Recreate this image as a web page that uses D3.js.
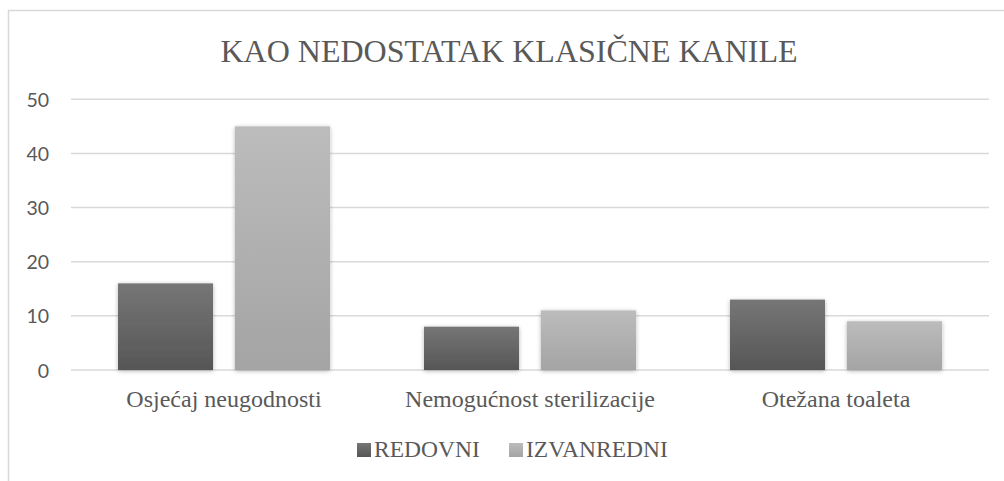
<!DOCTYPE html>
<html>
<head>
<meta charset="utf-8">
<script src="https://cdn.jsdelivr.net/npm/d3@7"></script>
<style>
  html, body { margin: 0; padding: 0; background: #fff; }
  svg { display: block; }
</style>
</head>
<body>
<script>
const categories = ["Osjećaj neugodnosti", "Nemogućnost sterilizacije", "Otežana toaleta"];
const seriesNames = ["REDOVNI", "IZVANREDNI"];
const redovni = [16, 8, 13];
const izvanredni = [45, 11, 9];
const yTicks = [0, 10, 20, 30, 40, 50];
const title = "KAO NEDOSTATAK KLASIČNE KANILE";

const W = 1004, H = 481;
const svg = d3.select("body").append("svg").attr("width", W).attr("height", H);

const defs = svg.append("defs");
const grads = [["gRed", "#767676", "#565656"], ["gIzv", "#bcbcbc", "#a4a4a4"]];
grads.forEach(([id, c1, c2]) => {
  const g = defs.append("linearGradient").attr("id", id).attr("x1", 0).attr("y1", 0).attr("x2", 0).attr("y2", 1);
  g.append("stop").attr("offset", "0%").attr("stop-color", c1);
  g.append("stop").attr("offset", "100%").attr("stop-color", c2);
});
const f = defs.append("filter").attr("id", "shadow").attr("x", "-20%").attr("y", "-20%").attr("width", "140%").attr("height", "140%");
f.append("feDropShadow").attr("dx", 0).attr("dy", 1).attr("stdDeviation", 2).attr("flood-color", "#000").attr("flood-opacity", 0.3);

// chart border (partially visible)
svg.append("path").attr("d", "M8.5,481 V10.5 H1004").attr("fill", "none").attr("stroke", "#d9d9d9").attr("stroke-width", 1.5);

const textColor = "#595959";

svg.append("text").attr("x", 509).attr("y", 62).attr("text-anchor", "middle")
  .style("font-family", "Liberation Serif, serif").style("font-size", "32px")
  .attr("fill", textColor).text(title);

const x0 = d3.scaleBand().domain(categories).range([71, 989]).paddingInner(0).paddingOuter(0);
const x1 = d3.scaleBand().domain(seriesNames).range([0, x0.bandwidth()]).paddingInner(0.188).paddingOuter(0.4015);
const y = d3.scaleLinear().domain([0, 50]).range([370, 99.3]);

// y axis labels
const yAxis = d3.axisLeft(y).tickValues(yTicks).tickSize(0).tickPadding(0);
const gy = svg.append("g").attr("transform", "translate(49,0)").call(yAxis);
gy.attr("font-family", null).attr("font-size", null);
gy.select(".domain").remove();
gy.selectAll("text")
  .style("font-family", "Lato, Open Sans, sans-serif").style("font-size", "19.5px")
  .attr("fill", textColor).attr("dy", "0.36em");

// gridlines
svg.append("g").selectAll("line").data(yTicks).join("line")
  .attr("x1", 71).attr("x2", 989)
  .attr("y1", d => y(d)).attr("y2", d => y(d))
  .attr("stroke", "#d9d9d9").attr("stroke-width", 1.5);

const seriesData = [redovni, izvanredni];
const fills = ["url(#gRed)", "url(#gIzv)"];

const groups = svg.append("g").selectAll("g").data(categories).join("g")
  .attr("transform", d => `translate(${x0(d)},0)`);
groups.selectAll("rect").data((d, i) => seriesNames.map((s, j) => ({ s, j, v: seriesData[j][i] })))
  .join("rect")
  .attr("x", d => x1(d.s))
  .attr("width", x1.bandwidth())
  .attr("y", d => y(d.v))
  .attr("height", d => y(0) - y(d.v))
  .attr("fill", d => fills[d.j])
  .attr("filter", "url(#shadow)");

// category labels
const xAxis = d3.axisBottom(x0).tickSize(0).tickPadding(0);
const gx = svg.append("g").attr("transform", "translate(0,407)").call(xAxis);
gx.attr("font-family", null).attr("font-size", null);
gx.select(".domain").remove();
gx.selectAll("text").attr("dy", 0).attr("y", 0)
  .style("font-family", "Liberation Serif, serif").style("font-size", "24px")
  .attr("fill", textColor);

// legend
const legendX = [357, 509];
const lg = svg.append("g").selectAll("g").data(seriesNames).join("g")
  .attr("transform", (d, i) => `translate(${legendX[i]},0)`);
lg.append("rect").attr("x", 0).attr("y", 443).attr("width", 14).attr("height", 14)
  .attr("fill", (d, i) => fills[i]);
lg.append("text").attr("x", 17).attr("y", 457)
  .style("font-family", "Liberation Serif, serif").style("font-size", "23.5px")
  .attr("fill", textColor).text(d => d);
</script>
</body>
</html>
